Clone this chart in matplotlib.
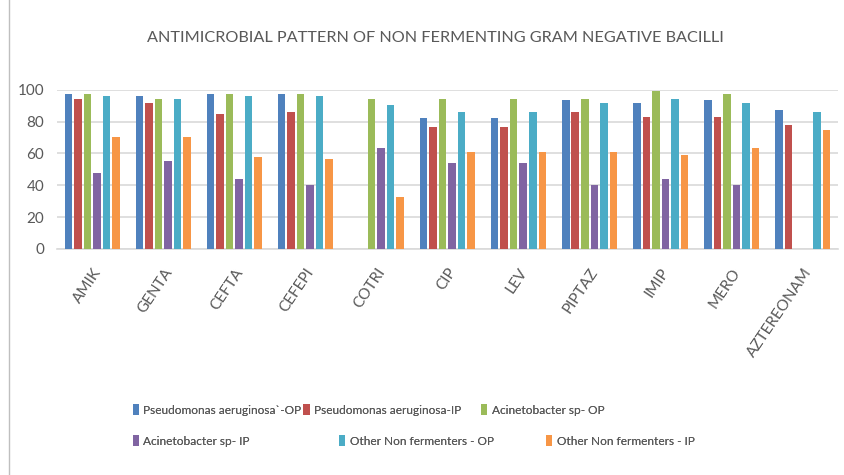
import matplotlib.pyplot as plt
import numpy as np
from matplotlib.lines import Line2D

plt.rcParams['font.family'] = ['Lato', 'DejaVu Sans']

drugs = ['AMIK', 'GENTA', 'CEFTA', 'CEFEPI', 'COTRI', 'CIP', 'LEV',
         'PIPTAZ', 'IMIP', 'MERO', 'AZTEREONAM']

series_names = ['Pseudomonas aeruginosa`-OP', 'Pseudomonas aeruginosa-IP',
                'Acinetobacter sp- OP', 'Acinetobacter sp- IP',
                'Other Non fermenters - OP', 'Other Non fermenters - IP']

pa_op = [97.5, 96, 97.5, 97.5, 0, 82, 82, 93.3, 92, 93.3, 87.6]
pa_ip = [94.5, 92, 85, 86, 0, 76.3, 76.3, 86, 83, 83, 77.8]
ac_op = [97.5, 94.5, 97.5, 97.5, 94.5, 94.5, 94.5, 94.5, 99, 97.5, 0]
ac_ip = [48, 55.3, 44, 40, 63.7, 53.7, 53.7, 40, 44, 40, 0]
onf_op = [96, 94.5, 96, 96, 90.4, 86, 86, 92, 94.5, 92, 86]
onf_ip = [70.6, 70.6, 58, 56.6, 32.7, 60.8, 60.8, 60.8, 59.3, 63.7, 74.8]

colors = ['#4F81BD', '#C0504D', '#9BBB59', '#8064A2', '#4BACC6', '#F79646']

fig = plt.figure(figsize=(8.45, 4.75), dpi=100)
ax = fig.add_axes([0.067, 0.476, 0.925, 0.335])

x = np.arange(len(drugs))
step = 0.134
width = 0.106
all_series = [pa_op, pa_ip, ac_op, ac_ip, onf_op, onf_ip]
bars = []
for i, (vals, name, c) in enumerate(zip(all_series, series_names, colors)):
    b = ax.bar(x + (i - 2.5) * step, vals, width, color=c, label=name, zorder=3)
    bars.append(b)

ax.set_xlim(-0.5, len(drugs) - 0.5)
ax.set_ylim(0, 100)
ax.set_yticks(range(0, 101, 20))
ax.yaxis.grid(True, color='#D9D9D9', linewidth=1.2, zorder=0)
ax.set_xticks(x)
ax.set_xticklabels(drugs, rotation=56, ha='right', rotation_mode='anchor',
                   fontsize=11, color='#595959')
ax.tick_params(axis='y', labelsize=11, labelcolor='#595959', length=0, pad=9)
ax.tick_params(axis='x', length=0, pad=12)
for s in ['top', 'right', 'left']:
    ax.spines[s].set_visible(False)
ax.spines['bottom'].set_color('#D9D9D9')
ax.spines['bottom'].set_linewidth(1.2)

fig.text(0.515, 0.92, 'ANTIMICROBIAL PATTERN OF NON FERMENTING GRAM NEGATIVE BACILLI',
         ha='center', va='center', fontsize=11.7, color='#595959')

# legend entries placed one by one, like the Excel layout
leg_pos = [(0.157, 0.137), (0.359, 0.137), (0.569, 0.137),
           (0.157, 0.072), (0.401, 0.072), (0.646, 0.072)]
for b, name, (lx, ly) in zip(bars, series_names, leg_pos):
    leg = fig.legend([b], [name], loc='center left', bbox_to_anchor=(lx, ly),
                     frameon=False, fontsize=8.6, handlelength=0.55, handleheight=1.0,
                     handletextpad=0.35, borderpad=0, borderaxespad=0,
                     labelcolor='#595959')
    fig.add_artist(leg)

fig.add_artist(Line2D([0.011, 0.011], [0, 1], color='#BFBFBF', linewidth=1))

fig.savefig('out.png', dpi=100)
